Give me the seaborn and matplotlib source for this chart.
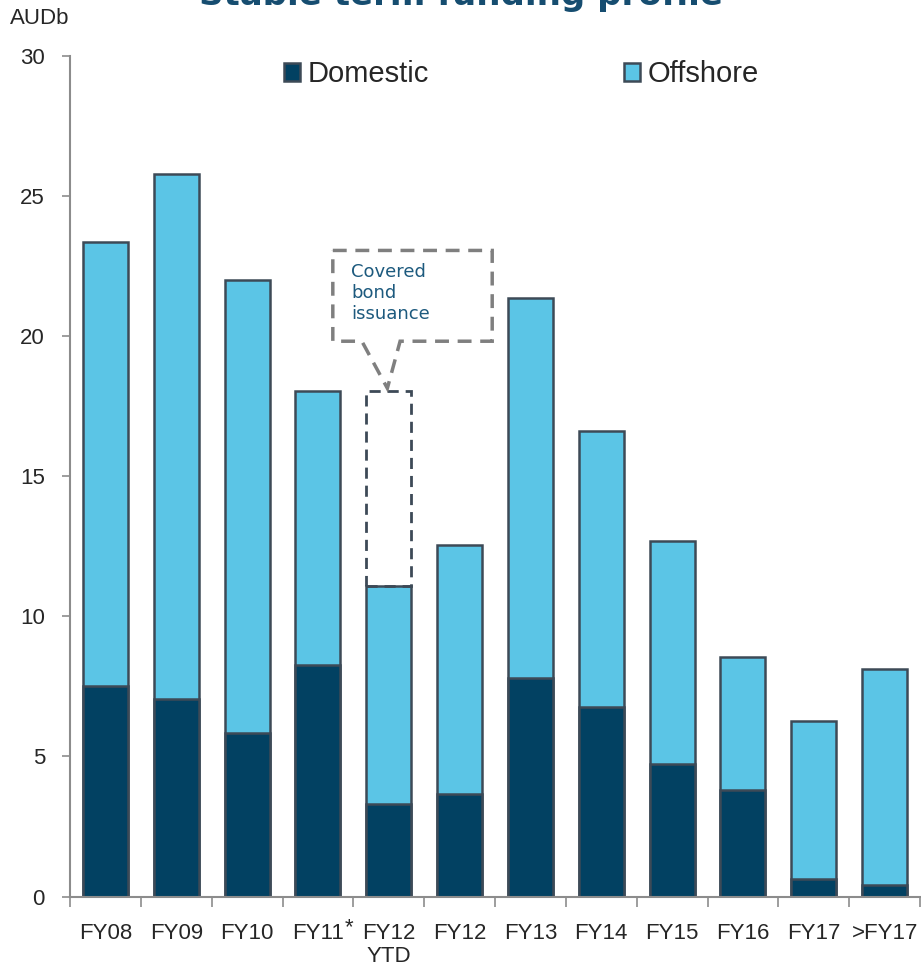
import numpy as np
import pandas as pd
import matplotlib
matplotlib.use("Agg")
import matplotlib.pyplot as plt
from matplotlib.patches import Polygon
import seaborn as sns

# data (AUD billions)
categories = ["FY08", "FY09", "FY10", "FY11", "FY12\nYTD", "FY12", "FY13",
              "FY14", "FY15", "FY16", "FY17", ">FY17"]
domestic = [7.53, 7.04, 5.85, 8.27, 3.30, 3.66, 7.79, 6.76, 4.74, 3.80, 0.61, 0.42]
totals = [23.37, 25.80, 22.02, 18.05, 11.09, 12.55, 21.38, 16.63, 12.70, 8.56, 6.27, 8.11]
covered_bond_top = 18.05

dark = "#024162"
light = "#5bc5e6"
edge = "#3d4a57"
grey = "#8c8c8c"

sns.set_style("white")
plt.rcParams["font.family"] = ["Liberation Sans", "DejaVu Sans"]

df = pd.DataFrame({"cat": categories, "domestic": domestic, "total": totals})

fig = plt.figure(figsize=(9.21, 9.69), dpi=100)
ax = fig.add_axes([0.076, 0.0748, 0.923, 0.8674])

sns.barplot(data=df, x="cat", y="total", color=light, saturation=1,
            edgecolor=edge, linewidth=1.8, width=0.635, ax=ax, label="Offshore")
sns.barplot(data=df, x="cat", y="domestic", color=dark, saturation=1,
            edgecolor=edge, linewidth=1.8, width=0.635, ax=ax, label="Domestic")

# covered bond issuance (dashed outline on FY12 YTD)
ytd = categories.index("FY12\nYTD")
ax.bar(ytd, covered_bond_top - totals[ytd], bottom=totals[ytd], width=0.635,
       fill=False, edgecolor=edge, linewidth=2, linestyle=(0, (4, 2.5)))

callout = Polygon([(3.21, 23.06), (5.46, 23.06), (5.46, 19.82), (4.16, 19.82),
                   (3.98, 18.14), (3.62, 19.82), (3.21, 19.82)], closed=True,
                  fill=False, edgecolor="#7f7f7f", linewidth=2.5,
                  linestyle=(0, (4, 2.5)), clip_on=False, joinstyle="miter")
ax.add_patch(callout)
ax.text(3.47, 22.6, "Covered\nbond\nissuance", fontsize=13, color="#1d5a7e",
        va="top", ha="left", family="DejaVu Sans", linespacing=1.2)

ax.set_xlim(-0.5, 11.5)
ax.set_ylim(0, 30)
ax.set_yticks(np.arange(0, 31, 5))
ax.set_xticks(np.arange(-0.5, 12, 1), minor=True)
ax.set_xlabel("")
ax.set_ylabel("")
ax.tick_params(axis="x", which="major", bottom=False, length=0, pad=19,
               labelsize=16)
ax.tick_params(axis="x", which="minor", bottom=True, length=7, width=1.2,
               color=grey, direction="out")
ax.tick_params(axis="y", left=True, length=6, width=1.2, color=grey,
               direction="out", pad=12, labelsize=16)
for t in ax.get_xticklabels():
    t.set_linespacing(1.15)

# footnote marker on FY11
ax.text(3.38, -0.72, "*", fontsize=16, ha="left", va="top", clip_on=False)

sns.despine(ax=ax)
for s in ["left", "bottom"]:
    ax.spines[s].set_color(grey)
    ax.spines[s].set_linewidth(1.5)

handles, labels = ax.get_legend_handles_labels()
order = [labels.index("Domestic"), labels.index("Offshore")]
ax.legend([handles[i] for i in order], [labels[i] for i in order], ncol=2,
          frameon=False, fontsize=21, loc="upper left",
          bbox_to_anchor=(0.252, 0.995), handlelength=0.55, handleheight=0.55,
          handletextpad=0.25, columnspacing=6.7, borderpad=0, borderaxespad=0)

fig.text(0.5, 1 - 5 / 969, "Stable term funding profile", ha="center",
         va="baseline", fontsize=24.5, fontweight="bold", color="#164d70",
         family="DejaVu Sans")
fig.text(10 / 921, 1 - 18 / 969, "AUDb", fontsize=16, ha="left", va="center")

fig.savefig("out.png", dpi=100)
